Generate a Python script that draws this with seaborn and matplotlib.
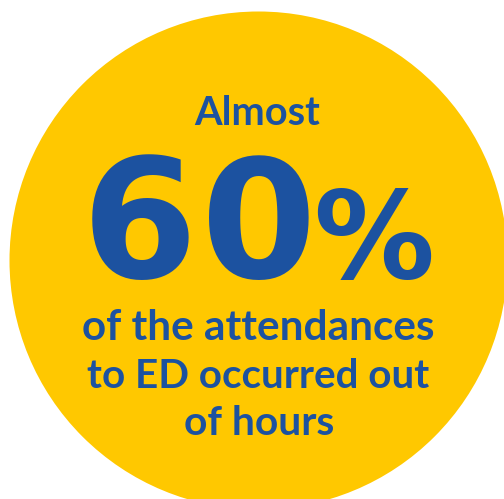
import matplotlib
matplotlib.use("Agg")
import matplotlib.pyplot as plt
import seaborn as sns
import pandas as pd

# ---- content ----
headline_prefix = "Almost"
share_value = 60
share_unit = "%"
caption_lines = ["of the attendances", "to ED occurred out", "of hours"]

YELLOW = "#FFC800"
BLUE = "#1C52A0"

sns.set_theme(style="white")
plt.rcParams['font.family'] = ['Lato', 'DejaVu Sans']

W, H = 504, 499
fig = plt.figure(figsize=(W / 100, H / 100), dpi=100)
ax = fig.add_axes([0, 0, 1, 1])

# yellow disc
cx, cy, rad = 258, 260, 249
diam_pt = 2 * rad * 72 / 100
df = pd.DataFrame({"x": [cx], "y": [cy]})
sns.scatterplot(data=df, x="x", y="y", s=diam_pt ** 2, color=YELLOW,
                linewidth=0, ax=ax, legend=False, zorder=1)
ax.set_xlim(0, W)
ax.set_ylim(H, 0)
ax.axis('off')

fig.canvas.draw()
rend = fig.canvas.get_renderer()


def fit_width(txt, x0, x1, baseline, family, weight, size0=30):
    t = ax.text((x0 + x1) / 2, baseline, txt, ha='center', va='baseline',
                fontsize=size0, family=family, weight=weight, color=BLUE,
                zorder=3)
    bb = t.get_window_extent(renderer=rend)
    t.set_fontsize(size0 * (x1 - x0) / bb.width)
    return t


def fit_height(txt, xc, baseline, height_px, family, weight):
    size = height_px / 0.729 * 0.72
    return ax.text(xc, baseline, txt, ha='center', va='baseline',
                   fontsize=size, family=family, weight=weight, color=BLUE,
                   zorder=3)


# "Almost"
fit_width(headline_prefix, 194, 320, 125, ['Lato', 'DejaVu Sans'], 'bold')

# big number, digit by digit
digits = list(str(share_value))
digit_centers = [140, 259]
for d, xc in zip(digits, digit_centers):
    fit_height(d, xc, 278, 121, ['DejaVu Sans'], 'bold')
fit_height(share_unit, 374, 278, 88, ['DejaVu Sans'], 'bold')

# caption
spans = [(83, 434, 340), (87, 429, 388), (184, 334, 435)]
for line, (x0, x1, bl) in zip(caption_lines, spans):
    fit_width(line, x0, x1, bl, ['Lato', 'DejaVu Sans'], 'bold')

fig.savefig("out.png", dpi=100, facecolor="white")
